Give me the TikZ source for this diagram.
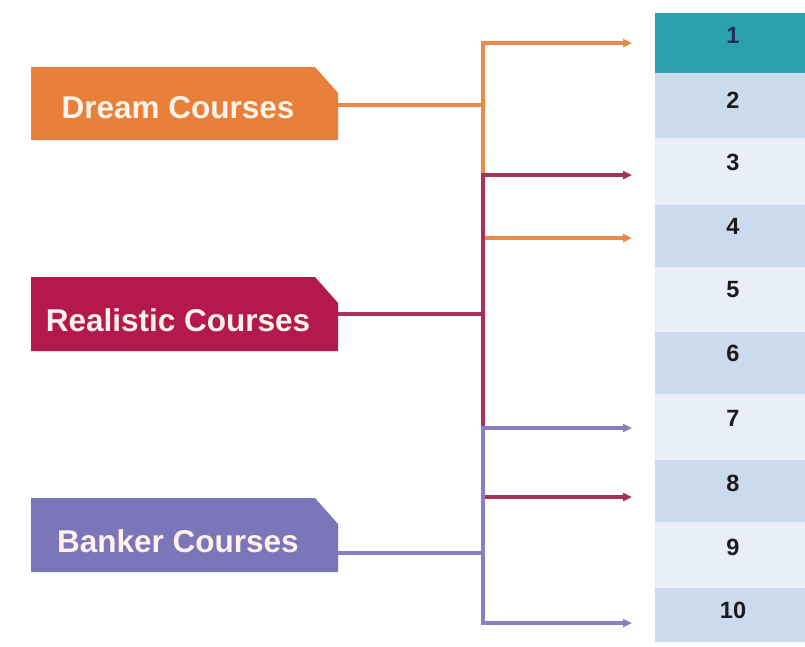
\documentclass[tikz,border=0pt]{standalone}
\usepackage{fontspec}
\setmainfont{Liberation Sans}
\usetikzlibrary{arrows.meta}
\definecolor{dreamc}{HTML}{E8803A}
\definecolor{realc}{HTML}{B3194F}
\definecolor{bankc}{HTML}{7B75B9}
\definecolor{dreaml}{HTML}{EA8A48}
\definecolor{reall}{HTML}{A8305A}
\definecolor{bankl}{HTML}{8880C2}
\definecolor{tealc}{HTML}{2AA2AC}
\definecolor{rowdark}{HTML}{CCDBEC}
\definecolor{rowlight}{HTML}{E8EFF8}
\definecolor{numc}{HTML}{1A1A1A}
\definecolor{numfirst}{HTML}{1B2F5A}
\definecolor{boxtextc}{HTML}{FDF3EA}
\tikzset{
  x=1pt, y=-1pt,
  boxtext/.style={text=boxtextc, font=\fontsize{31.5}{36}\selectfont\bfseries, inner sep=0pt},
  numtext/.style={text=numc, font=\fontsize{23.5}{28}\selectfont\bfseries, inner sep=0pt},
  rowbox/.style={draw=none, inner sep=0pt, minimum width=150pt},
  conn/.style={line width=3.2pt, -{Triangle[length=9pt,width=8pt]}},
  plainconn/.style={line width=3.2pt}
}
\begin{document}
\begin{tikzpicture}
\useasboundingbox (0,0) rectangle (805,646);
\fill[white] (0,0) rectangle (805,646);

% table rows
\foreach \i/\t/\b/\c in {1/13/73/tealc, 2/73/138/rowdark, 3/138/205/rowlight, 4/205/267/rowdark, 5/267/332/rowlight, 6/332/394/rowdark, 7/394/460/rowlight, 8/460/522/rowdark, 9/522/588/rowlight, 10/588/642/rowdark}{
  \node[rowbox, fill=\c, minimum height={(\b-\t)*1pt}] (r\i) at (730,{(\t+\b)/2}) {};
}
\node[numtext, text=numfirst] (n1) at (733,35) {1};
\node[numtext] (n2) at (733,100) {2};
\node[numtext] (n3) at (733,162) {3};
\node[numtext] (n4) at (733,226) {4};
\node[numtext] (n5) at (733,290) {5};
\node[numtext] (n6) at (733,353) {6};
\node[numtext] (n7) at (733,418) {7};
\node[numtext] (n8) at (733,483) {8};
\node[numtext] (n9) at (733,547) {9};
\node[numtext] (n10) at (733,610) {10};

% boxes
\fill[dreamc] (31,67) -- (315,67) -- (338,93) -- (338,140) -- (31,140) -- cycle;
\fill[realc] (31,277) -- (315,277) -- (338,303) -- (338,351) -- (31,351) -- cycle;
\fill[bankc] (31,498) -- (315,498) -- (338,524) -- (338,572) -- (31,572) -- cycle;
\node[boxtext] (dream) at (178,108) {Dream Courses};
\node[boxtext] (real) at (178,320) {Realistic Courses};
\node[boxtext] (bank) at (178,541) {Banker Courses};

\coordinate (dreamR) at (338,105);
\coordinate (realR) at (338,314);
\coordinate (bankR) at (338,553);
\coordinate (oj) at (483,105);
\coordinate (rj) at (483,314);
\coordinate (pj) at (483,553);
\coordinate (a1) at (632,43);
\coordinate (a3) at (632,175);
\coordinate (a4) at (632,238);
\coordinate (a7) at (632,428);
\coordinate (a8) at (632,497);
\coordinate (a10) at (632,623);

% orange connectors
\draw[plainconn, dreaml] (dreamR) -- (oj);
\draw[conn, dreaml] (oj) |- (a1);
\draw[conn, dreaml] (oj) |- (a4);
% red connectors
\draw[plainconn, reall] (realR) -- (rj);
\draw[conn, reall] (rj) |- (a3);
\draw[conn, reall] (rj) |- (a8);
% purple connectors
\draw[plainconn, bankl] (bankR) -- (pj);
\draw[conn, bankl] (pj) |- (a7);
\draw[conn, bankl] (pj) |- (a10);
\end{tikzpicture}
\end{document}
